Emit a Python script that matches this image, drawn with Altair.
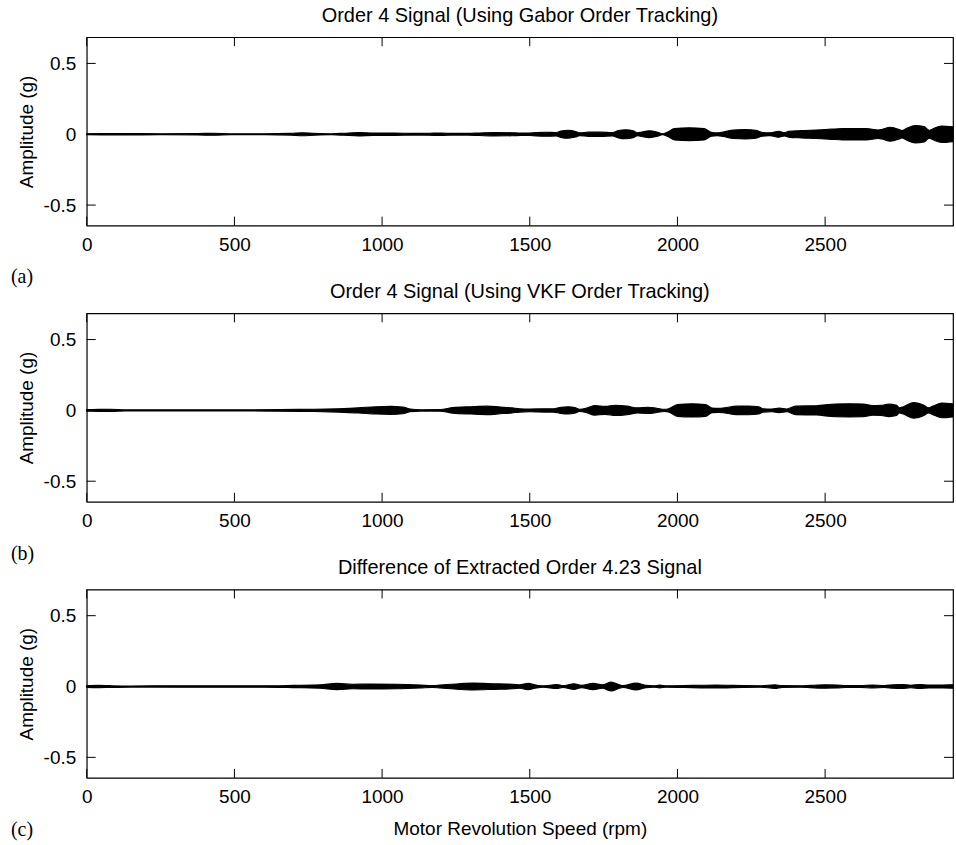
import altair as alt
import pandas as pd

# Envelope of each extracted order signal: motor speed (rpm) and half-amplitude (g)
rpm_gabor = [0, 120, 250, 376, 430, 490, 600, 690, 730, 770,
             830, 870, 920, 970, 1040, 1105, 1160, 1200, 1240, 1290,
             1330, 1380, 1440, 1470, 1500, 1550, 1590, 1605, 1630, 1655,
             1668, 1700, 1740, 1780, 1800, 1825, 1850, 1865, 1880, 1905,
             1930, 1950, 1965, 1990, 2040, 2090, 2115, 2135, 2155, 2190,
             2230, 2265, 2286, 2310, 2325, 2343, 2362, 2376, 2420, 2470,
             2522, 2560, 2600, 2640, 2680, 2692, 2720, 2748, 2760, 2775,
             2805, 2835, 2852, 2862, 2895, 2933]
env_gabor = [0.004, 0.005, 0.004, 0.005, 0.007, 0.004, 0.004, 0.006, 0.011, 0.007,
             0.004, 0.007, 0.012, 0.008, 0.008, 0.006, 0.007, 0.009, 0.006, 0.006,
             0.009, 0.012, 0.011, 0.008, 0.009, 0.014, 0.012, 0.022, 0.028, 0.020,
             0.010, 0.015, 0.015, 0.012, 0.026, 0.032, 0.024, 0.010, 0.016, 0.024,
             0.016, 0.004, 0.014, 0.040, 0.045, 0.040, 0.014, 0.010, 0.016, 0.030,
             0.033, 0.028, 0.014, 0.010, 0.014, 0.021, 0.012, 0.020, 0.026, 0.030,
             0.036, 0.040, 0.041, 0.040, 0.030, 0.034, 0.049, 0.036, 0.026, 0.040,
             0.062, 0.055, 0.028, 0.036, 0.058, 0.052]

rpm_vkf = [0, 40, 80, 130, 250, 400, 545, 650, 770, 850,
           920, 980, 1030, 1070, 1095, 1130, 1197, 1240, 1300, 1355,
           1400, 1440, 1466, 1500, 1550, 1580, 1605, 1630, 1655, 1668,
           1690, 1720, 1755, 1790, 1830, 1865, 1880, 1900, 1930, 1955,
           1970, 2000, 2050, 2095, 2117, 2140, 2160, 2200, 2240, 2275,
           2290, 2320, 2345, 2370, 2400, 2470, 2535, 2580, 2630, 2660,
           2690, 2716, 2742, 2752, 2765, 2800, 2835, 2850, 2865, 2895,
           2933]
env_vkf = [0.006, 0.007, 0.008, 0.004, 0.004, 0.004, 0.004, 0.006, 0.008, 0.012,
           0.018, 0.026, 0.028, 0.024, 0.010, 0.005, 0.006, 0.020, 0.026, 0.030,
           0.024, 0.018, 0.012, 0.010, 0.012, 0.012, 0.022, 0.026, 0.018, 0.008,
           0.014, 0.034, 0.028, 0.036, 0.030, 0.018, 0.020, 0.022, 0.015, 0.008,
           0.012, 0.042, 0.046, 0.042, 0.016, 0.014, 0.018, 0.030, 0.031, 0.026,
           0.012, 0.010, 0.016, 0.010, 0.030, 0.033, 0.045, 0.046, 0.045, 0.034,
           0.036, 0.044, 0.036, 0.018, 0.026, 0.055, 0.036, 0.018, 0.030, 0.052,
           0.046]

rpm_diff = [0, 40, 80, 150, 300, 450, 600, 700, 790, 848,
            900, 960, 1050, 1130, 1170, 1197, 1260, 1308, 1380, 1443,
            1466, 1494, 1522, 1545, 1592, 1612, 1650, 1675, 1715, 1746,
            1776, 1803, 1815, 1860, 1894, 1920, 1940, 1962, 2050, 2130,
            2186, 2230, 2280, 2330, 2355, 2420, 2450, 2500, 2540, 2570,
            2620, 2660, 2700, 2730, 2760, 2790, 2820, 2850, 2900, 2933]
env_diff = [0.006, 0.008, 0.006, 0.004, 0.005, 0.005, 0.005, 0.008, 0.012, 0.022,
            0.016, 0.018, 0.016, 0.010, 0.006, 0.010, 0.020, 0.024, 0.020, 0.016,
            0.012, 0.022, 0.010, 0.005, 0.014, 0.006, 0.020, 0.008, 0.022, 0.012,
            0.032, 0.012, 0.006, 0.024, 0.008, 0.005, 0.010, 0.005, 0.008, 0.011,
            0.008, 0.006, 0.005, 0.013, 0.006, 0.005, 0.008, 0.012, 0.011, 0.007,
            0.006, 0.011, 0.007, 0.012, 0.014, 0.009, 0.014, 0.010, 0.011, 0.012]

titles = ["Order 4 Signal (Using Gabor Order Tracking)",
          "Order 4 Signal (Using VKF Order Tracking)",
          "Difference of Extracted Order 4.23 Signal"]
tags = ["(a)", "(b)", "(c)"]
x_ticks = [0, 500, 1000, 1500, 2000, 2500]
y_ticks = [-0.5, 0, 0.5]
x_label = "Motor Revolution Speed (rpm)"
y_label = "Amplitude (g)"

W, H = 869, 189
X_DOMAIN = [0, 2933]
Y_DOMAIN = [-0.645, 0.685]
SANS = "Liberation Sans"
SERIF = "Liberation Serif"
FS = 19
TICK = 9


def panel(rpm, env, title, tag, show_x_title):
    xs = alt.Scale(domain=X_DOMAIN, nice=False, zero=False)
    ys = alt.Scale(domain=Y_DOMAIN, nice=False, zero=False)

    x_axis_kw = dict(values=x_ticks, ticks=False, tickSize=0, domain=False, grid=False,
                     labelFont=SANS, labelFontSize=FS, labelColor="black",
                     labelPadding=10, labelFlush=False, format="d")
    if show_x_title:
        x_axis_kw.update(title=x_label, titleFont=SANS, titleFontSize=FS,
                         titleFontWeight="normal", titleColor="black", titlePadding=13)
        x_enc = alt.X("rpm:Q", scale=xs, axis=alt.Axis(**x_axis_kw))
    else:
        x_enc = alt.X("rpm:Q", scale=xs, axis=alt.Axis(**x_axis_kw), title=None)

    y_axis = alt.Axis(values=y_ticks, ticks=False, tickSize=0, domain=False, grid=False,
                      labelFont=SANS, labelFontSize=FS, labelColor="black", labelPadding=11,
                      format=".1~f",
                      labelExpr="replace(datum.label, '\u2212', '-')",
                      title=y_label, titleFont=SANS, titleFontSize=FS,
                      titleFontWeight="normal", titleColor="black", titlePadding=7)
    y_enc = alt.Y("env:Q", scale=ys, axis=y_axis)

    df = pd.DataFrame({"rpm": rpm, "env": env})
    signal = alt.Chart(df).transform_calculate(
        low="-datum.env"
    ).mark_area(
        color="black", stroke="black", strokeWidth=1.1, interpolate="monotone"
    ).encode(x=x_enc, y=y_enc, y2="low:Q")

    # inward tick marks on all four sides of the frame
    xt = pd.DataFrame({"rpm": x_ticks})
    yt = pd.DataFrame({"env": y_ticks})
    x_bottom = alt.Chart(xt).mark_rule(color="black", strokeWidth=1).encode(
        x=x_enc, y=alt.value(H), y2=alt.value(H - TICK))
    x_top = alt.Chart(xt).mark_rule(color="black", strokeWidth=1).encode(
        x=x_enc, y=alt.value(0), y2=alt.value(TICK))
    y_left = alt.Chart(yt).mark_rule(color="black", strokeWidth=1).encode(
        y=y_enc, x=alt.value(0), x2=alt.value(TICK))
    y_right = alt.Chart(yt).mark_rule(color="black", strokeWidth=1).encode(
        y=y_enc, x=alt.value(W), x2=alt.value(W - TICK))

    label = alt.Chart(pd.DataFrame({"tag": [tag]})).mark_text(
        font=SERIF, fontSize=20, color="black", align="left", baseline="middle"
    ).encode(text="tag:N", x=alt.value(-76), y=alt.value(H + 52))

    return alt.layer(signal, x_bottom, x_top, y_left, y_right, label).properties(
        width=W, height=H,
        title=alt.TitleParams(title, font=SANS, fontSize=20, fontWeight="normal",
                              color="black", anchor="middle", frame="group", offset=11),
    )


panels = [
    panel(rpm_gabor, env_gabor, titles[0], tags[0], False),
    panel(rpm_vkf, env_vkf, titles[1], tags[1], False),
    panel(rpm_diff, env_diff, titles[2], tags[2], True),
]

chart = alt.vconcat(*panels, spacing=88, bounds="flush").properties(
    padding={"left": 10, "top": 3, "right": 0, "bottom": 5}
).configure_view(stroke="black", strokeWidth=1.2)

chart.save("out.html", embed_options={"renderer": "svg", "actions": False})
